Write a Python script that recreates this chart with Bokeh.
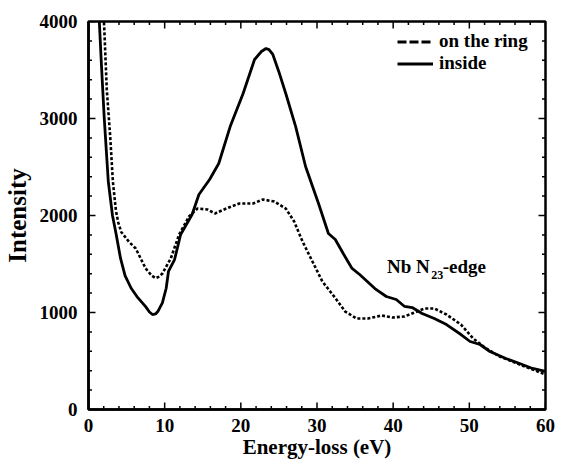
from bokeh.plotting import figure
from bokeh.models import Range1d, Legend, LegendItem, Label, SingleIntervalTicker
from bokeh.embed import file_html
from bokeh.resources import INLINE

# ---- data ----
inside_x = [1.3, 1.42, 1.7, 2.07, 2.6, 3.15, 3.6, 4.2, 4.8, 5.6, 6.5, 7.5, 8.0, 8.4,
            8.8, 9.1, 9.7, 10.2, 10.5, 11.3, 12.1, 13.6, 14.5, 15.9, 17.1, 18.6,
            20.3, 21.8, 22.7, 23.3, 23.7, 24.2, 25.0, 25.9, 27.2, 28.5, 30.2, 31.5,
            32.4, 33.5, 34.6, 35.6, 36.6, 37.6, 39.1, 40.4, 41.5, 42.5, 43.8, 45.4,
            47.0, 48.9, 50.1, 51.4, 52.7, 54.8, 56.6, 58.3, 60.0]
inside_y = [4300, 4000, 3550, 3000, 2350, 2000, 1820, 1560, 1380, 1250, 1150, 1060,
            1005, 979, 985, 1010, 1100, 1250, 1423, 1546, 1804, 2010, 2216, 2371,
            2536, 2917, 3258, 3608, 3691, 3722, 3710, 3660, 3480, 3258, 2917, 2505,
            2124, 1814, 1752, 1600, 1454, 1392, 1320, 1247, 1165, 1134, 1062, 1051,
            990, 938, 876, 773, 701, 670, 598, 526, 474, 423, 392]

ring_x = [1.9, 2.03, 2.4, 2.85, 3.2, 3.6, 3.9, 4.3, 5.3, 6.2, 7.5, 8.3, 8.8, 9.3,
          9.7, 10.8, 11.9, 13.2, 14.3, 15.6, 16.6, 18.1, 19.8, 21.6, 22.9, 24.4,
          25.9, 27.0, 28.1, 29.4, 30.7, 32.4, 33.7, 35.2, 36.7, 38.5, 39.9, 41.5,
          42.8, 44.1, 45.4, 47.0, 48.9, 50.5, 52.2, 54.0, 56.6, 60.0]
ring_y = [4300, 4000, 3300, 2814, 2350, 2050, 1930, 1830, 1730, 1660, 1454, 1380,
          1355, 1370, 1402, 1557, 1804, 1990, 2072, 2062, 2021, 2072, 2124, 2124,
          2165, 2144, 2072, 1938, 1732, 1526, 1320, 1150, 1010, 938, 938, 969, 948,
          959, 1000, 1041, 1041, 979, 876, 732, 629, 546, 464, 361]

series_labels = ["on the ring", "inside"]
x_label = "Energy-loss (eV)"
y_label = "Intensity"

X_MIN, X_MAX, X_MAJOR, X_MINOR = 0, 60, 10, 2
Y_MIN, Y_MAX, Y_MAJOR, Y_MINOR = 0, 4000, 1000, 200

FONT = "Liberation Serif"

p = figure(width=558, height=463, output_backend="svg", toolbar_location=None,
           x_range=Range1d(X_MIN, X_MAX), y_range=Range1d(Y_MIN, Y_MAX),
           min_border_left=82, min_border_right=13, min_border_top=21,
           min_border_bottom=54)
p.background_fill_color = "white"
p.border_fill_color = "white"
p.grid.visible = False
p.outline_line_color = "black"
p.outline_line_width = 2.5

p.xaxis.ticker = SingleIntervalTicker(interval=X_MAJOR, num_minor_ticks=5)
p.yaxis.ticker = SingleIntervalTicker(interval=Y_MAJOR, num_minor_ticks=5)

for ax in (p.xaxis[0], p.yaxis[0]):
    ax.axis_line_color = "black"
    ax.axis_line_width = 2.5
    ax.major_tick_in = 0
    ax.major_tick_out = 0
    ax.minor_tick_in = 0
    ax.minor_tick_out = 0
    ax.major_label_text_font = FONT
    ax.major_label_text_font_style = "bold"
    ax.major_label_text_color = "black"
    ax.major_label_text_font_size = "19px"
    ax.axis_label_text_font = FONT
    ax.axis_label_text_font_style = "bold"
    ax.axis_label_text_color = "black"

p.xaxis.major_label_standoff = 9
p.yaxis.major_label_standoff = 11
p.xaxis.axis_label = x_label
p.yaxis.axis_label = y_label
p.xaxis.axis_label_text_font_size = "21px"
p.yaxis.axis_label_text_font_size = "25px"
p.xaxis.axis_label_standoff = 0
p.yaxis.axis_label_standoff = 6

# inward ticks on all four sides (dash markers centred on the frame, clipped to it)
x_major = list(range(X_MIN, X_MAX + 1, X_MAJOR))
x_minor = [v for v in range(X_MIN, X_MAX + 1, X_MINOR) if v % X_MAJOR]
y_major = list(range(Y_MIN, Y_MAX + 1, Y_MAJOR))
y_minor = [v for v in range(Y_MIN, Y_MAX + 1, Y_MINOR) if v % Y_MAJOR]

for xs, size in ((x_major, 14), (x_minor, 7)):
    p.scatter(xs, [Y_MIN] * len(xs), marker="dash", size=size, angle=1.5708,
              line_color="black", line_width=1.5)
    p.scatter(xs, [Y_MAX] * len(xs), marker="dash", size=size, angle=1.5708,
              line_color="black", line_width=1.5)
for ys, size in ((y_major, 14), (y_minor, 7)):
    p.scatter([X_MIN] * len(ys), ys, marker="dash", size=size,
              line_color="black", line_width=1.5)
    p.scatter([X_MAX] * len(ys), ys, marker="dash", size=size,
              line_color="black", line_width=1.5)

p.line(ring_x, ring_y, line_color="black", line_width=2.6, line_dash="3 2")
p.line(inside_x, inside_y, line_color="black", line_width=2.8)

# legend samples (not-a-number points so nothing is drawn in the plot)
nan = float("nan")
d1 = p.line([nan], [nan], line_color="black", line_width=2.8, line_dash="9 3")
d2 = p.line([nan], [nan], line_color="black", line_width=2.8)
legend = Legend(items=[LegendItem(label=series_labels[0], renderers=[d1]),
                       LegendItem(label=series_labels[1], renderers=[d2])],
                location=(309, 335), padding=0, margin=0, spacing=0,
                label_height=19, glyph_height=19, glyph_width=36,
                label_standoff=6, border_line_color=None,
                background_fill_alpha=0,
                label_text_font=FONT, label_text_font_style="bold",
                label_text_font_size="19px", label_text_color="black")
p.add_layout(legend, "center")

# annotation Nb N23-edge
common = dict(text_font=FONT, text_font_style="bold", text_color="black",
              text_baseline="alphabetic")
p.add_layout(Label(x=39.2, y=1474, text="Nb N", text_font_size="19px", **common))
p.add_layout(Label(x=45.0, y=1385, text="23", text_font_size="12px", **common))
p.add_layout(Label(x=46.5, y=1474, text="-edge", text_font_size="19px", **common))

open("out.html", "w").write(file_html(p, INLINE))
